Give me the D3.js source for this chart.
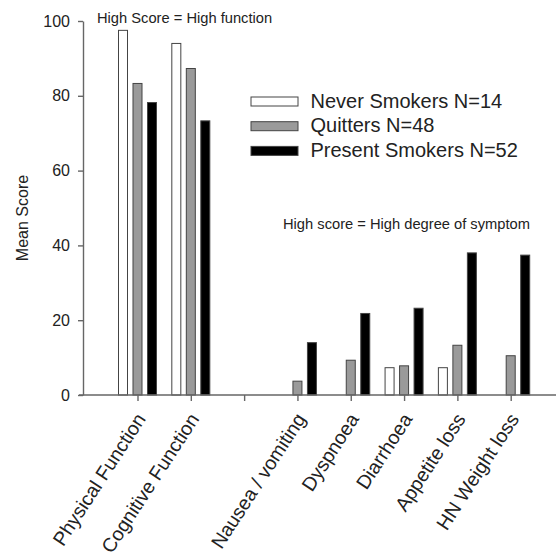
<!DOCTYPE html>
<html lang="en">
<head>
<meta charset="UTF-8">
<title>Mean Score by smoking status</title>
<style>
  body { margin: 0; background: #fff; }
  svg text { font-family: "Liberation Sans", Arial, sans-serif; fill: #222; }
</style>
</head>
<body>
<script src="https://d3js.org/d3.v7.min.js"></script>
<script>
// data
var categories = ["Physical Function", "Cognitive Function", "", "Nausea / vomiting",
                  "Dyspnoea", "Diarrhoea", "Appetite loss", "HN Weight loss"];
var seriesNames = ["Never Smokers N=14", "Quitters N=48", "Present Smokers N=52"];
var neverSmokers   = [97.5, 94.0, null, 0, 0, 7.3, 7.3, 0];
var quitters       = [83.3, 87.3, null, 3.7, 9.3, 7.8, 13.3, 10.5];
var presentSmokers = [78.2, 73.3, null, 14.0, 21.8, 23.2, 38.0, 37.4];
var yTicks = [0, 20, 40, 60, 80, 100];

var colors = ["#ffffff", "#9a9a9a", "#000000"];
var series = [neverSmokers, quitters, presentSmokers];

var width = 556, height = 558;

var svg = d3.select("body")
    .append("svg")
    .attr("width", width)
    .attr("height", height);

var y = d3.scaleLinear().domain([0, 100]).range([395, 21]);
var x = d3.scalePoint().domain(categories).range([137.5, 510.7]);
var inner = d3.scaleBand().domain(seriesNames).range([-19, 19]).paddingInner(0.379);

// bars
series.forEach(function (vals, s) {
    svg.append("g")
        .selectAll("rect")
        .data(categories.map(function (c, i) { return {c: c, v: vals[i]}; })
              .filter(function (d) { return d.v; }))
        .enter()
        .append("rect")
        .attr("x", function (d) { return x(d.c) + inner(seriesNames[s]); })
        .attr("y", function (d) { return y(d.v); })
        .attr("width", inner.bandwidth())
        .attr("height", function (d) { return y(0) - y(d.v); })
        .style("fill", colors[s])
        .style("stroke", "#444")
        .style("stroke-width", 1);
});

// y axis
var yAxis = svg.append("g")
    .attr("transform", "translate(83,0)")
    .call(d3.axisLeft(y).tickValues(yTicks).tickSize(5).tickSizeOuter(0).tickPadding(8));
yAxis.selectAll("text").style("font-size", "16px");

// x axis
var xAxis = svg.append("g")
    .attr("transform", "translate(0," + y(0) + ")")
    .call(d3.axisBottom(x).tickSize(6).tickSizeOuter(0).tickFormat(""));
xAxis.select(".domain").remove();
xAxis.append("line")
    .attr("x1", 79).attr("x2", width)
    .attr("y1", 0).attr("y2", 0);

svg.selectAll(".domain, .tick line, g > line")
    .style("stroke", "#666")
    .style("stroke-width", 1.4);

xAxis.selectAll(".xlab")
    .data(categories.filter(function (c) { return c !== ""; }))
    .enter()
    .append("text")
    .attr("class", "xlab")
    .attr("transform", function (d) { return "translate(" + (x(d) + 9) + ",24) rotate(-57)"; })
    .attr("text-anchor", "end")
    .style("font-size", "19.5px")
    .text(function (d) { return d; });

// y title
svg.append("text")
    .attr("transform", "translate(27.5,218) rotate(-90)")
    .attr("text-anchor", "middle")
    .style("font-size", "16px")
    .text("Mean Score");

// annotations
svg.append("text")
    .attr("x", 97).attr("y", 23)
    .style("font-size", "14.7px")
    .text("High Score = High function");

svg.append("text")
    .attr("x", 283).attr("y", 229)
    .style("font-size", "14.7px")
    .text("High score = High degree of symptom");

// legend
var legend = svg.append("g");
seriesNames.forEach(function (name, i) {
    var row = legend.append("g").attr("transform", "translate(0," + (i * 24.7) + ")");
    row.append("rect")
        .attr("x", 251).attr("y", 97)
        .attr("width", 47).attr("height", 9)
        .style("fill", colors[i])
        .style("stroke", "#444")
        .style("stroke-width", 1);
    row.append("text")
        .attr("x", 310.5).attr("y", 107.5)
        .style("font-size", "20px")
        .text(name);
});
</script>
</body>
</html>
